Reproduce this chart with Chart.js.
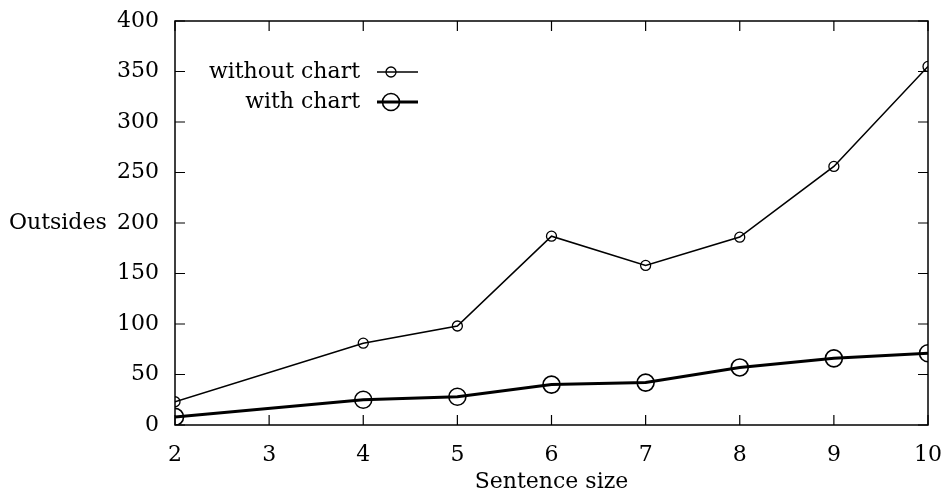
<!DOCTYPE html>
<html><head><meta charset="utf-8">
<script src="https://cdn.jsdelivr.net/npm/chart.js@4/dist/chart.umd.min.js"></script>
<style>html,body{margin:0;padding:0;background:#fff}#wrap{width:945px;height:495px}</style>
</head><body><div id="wrap"><canvas id="c" width="945" height="495"></canvas></div>
<script>
const sentenceSize = [2, 4, 5, 6, 7, 8, 9, 10];
const withoutChart = [23, 81, 98, 187, 158, 186, 256, 355];
const withChart = [8, 25, 28, 40, 42, 57, 66, 71];
const xTicks = [2, 3, 4, 5, 6, 7, 8, 9, 10];
const yTicks = [0, 50, 100, 150, 200, 250, 300, 350, 400];
const seriesNames = ['without chart', 'with chart'];
const FONT = '"DejaVu Serif", "Liberation Serif", serif';
const FS = 22;

const frame = {
  id: 'frame',
  afterDraw(chart) {
    const ctx = chart.ctx, a = chart.chartArea;
    const xs = chart.scales.x, ys = chart.scales.y;
    ctx.save();
    ctx.strokeStyle = '#000';
    ctx.lineWidth = 1.5;
    ctx.strokeRect(a.left, a.top, a.right - a.left, a.bottom - a.top);
    ctx.lineWidth = 1.2;
    const L = 10;
    ctx.beginPath();
    xTicks.forEach(v => {
      const p = xs.getPixelForValue(v);
      ctx.moveTo(p, a.bottom); ctx.lineTo(p, a.bottom - L);
      ctx.moveTo(p, a.top); ctx.lineTo(p, a.top + L);
    });
    yTicks.forEach(v => {
      const p = ys.getPixelForValue(v);
      ctx.moveTo(a.left, p); ctx.lineTo(a.left + L, p);
      ctx.moveTo(a.right, p); ctx.lineTo(a.right - L, p);
    });
    ctx.stroke();
    ctx.fillStyle = '#000';
    ctx.font = FS + 'px ' + FONT;
    ctx.textAlign = 'left';
    ctx.textBaseline = 'middle';
    ctx.fillText('Outsides', 9, ys.getPixelForValue(200));
    const ds = chart.data.datasets;
    const rows = [a.top + 51, a.top + 81];
    ds.forEach((d, i) => {
      const y = rows[i];
      ctx.textAlign = 'right';
      ctx.fillText(d.label, 360, y);
      ctx.beginPath();
      ctx.lineWidth = d.borderWidth;
      ctx.moveTo(377, y); ctx.lineTo(418, y);
      ctx.stroke();
      ctx.beginPath();
      ctx.lineWidth = d.pointBorderWidth;
      ctx.arc(391, y, d.pointRadius, 0, Math.PI * 2);
      ctx.stroke();
    });
    ctx.restore();
  }
};

new Chart(document.getElementById('c'), {
  type: 'line',
  data: {
    datasets: [
      { label: seriesNames[0], data: sentenceSize.map((x, i) => ({x, y: withoutChart[i]})),
        borderColor: '#000', borderWidth: 1.6, pointRadius: 5, pointBorderWidth: 1.3,
        pointBackgroundColor: 'rgba(0,0,0,0)', pointBorderColor: '#000', tension: 0 },
      { label: seriesNames[1], data: sentenceSize.map((x, i) => ({x, y: withChart[i]})),
        borderColor: '#000', borderWidth: 3, pointRadius: 8.5, pointBorderWidth: 1.6,
        pointBackgroundColor: 'rgba(0,0,0,0)', pointBorderColor: '#000', tension: 0 }
    ]
  },
  options: {
    responsive: false, animation: false,
    layout: { padding: { left: 0, right: 17, top: 21, bottom: 0 } },
    plugins: { legend: { display: false }, tooltip: { enabled: false } },
    scales: {
      x: {
        type: 'linear', min: 2, max: 10,
        afterBuildTicks: s => { s.ticks = xTicks.map(v => ({value: v})); },
        grid: { display: false, drawTicks: false },
        border: { display: false },
        ticks: { color: '#000', font: { family: FONT, size: FS }, padding: 17, maxRotation: 0 },
        title: { display: true, text: 'Sentence size', color: '#000', font: { family: FONT, size: FS }, padding: { top: 0, bottom: 0 } },
        afterFit: s => { s.height = 70; s.paddingLeft = 0; s.paddingRight = 0; }
      },
      y: {
        type: 'linear', min: 0, max: 400,
        afterBuildTicks: s => { s.ticks = yTicks.map(v => ({value: v})); },
        grid: { display: false, drawTicks: false },
        border: { display: false },
        ticks: { color: '#000', font: { family: FONT, size: FS }, padding: 16 },
        afterFit: s => { s.width = 175; s.paddingTop = 0; s.paddingBottom = 0; }
      }
    }
  },
  plugins: [frame]
});
</script></body></html>
